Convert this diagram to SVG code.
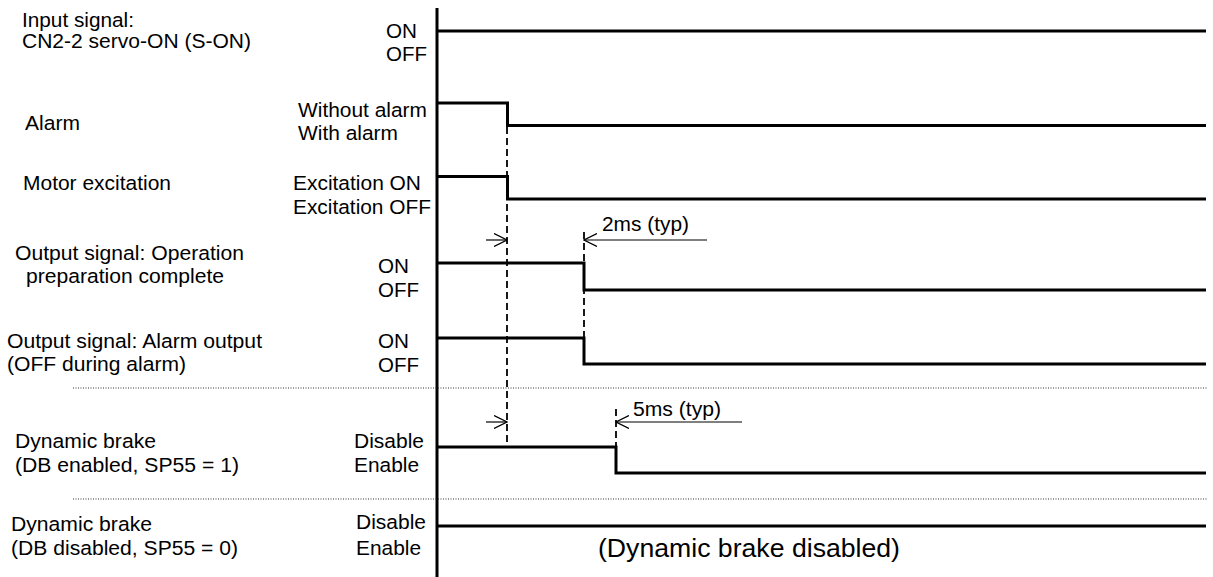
<svg xmlns="http://www.w3.org/2000/svg" width="1213" height="577" viewBox="0 0 1213 577">
<style>
text{font-family:"Liberation Sans",Arial,sans-serif;font-size:20.5px;fill:#000}
.big{font-size:25px}
.sig{fill:none;stroke:#000;stroke-width:3;stroke-linejoin:miter;stroke-linecap:butt}
.axis{fill:none;stroke:#000;stroke-width:3}
.dash{fill:none;stroke:#000;stroke-width:1.8;stroke-dasharray:7 4}
.dot{fill:none;stroke:#333;stroke-width:1;stroke-dasharray:1 1.5}
.dim{fill:none;stroke:#000;stroke-width:1.2}
</style>
<defs>
<marker id="chev" viewBox="0 0 14 14" markerWidth="14" markerHeight="14" refX="13" refY="7" markerUnits="userSpaceOnUse" orient="auto">
<path d="M0,0.5 L13,7 L0,13.5" fill="none" stroke="#000" stroke-width="1.3"/>
</marker>
</defs>
<rect width="1213" height="577" fill="#fff"/>
<line id="axis" class="axis" x1="437" y1="8" x2="437" y2="577"/>
<g id="input-signal">
<text x="22" y="27" textLength="112" lengthAdjust="spacingAndGlyphs">Input signal:</text>
<text x="22" y="47.5" textLength="229" lengthAdjust="spacingAndGlyphs">CN2-2 servo-ON (S-ON)</text>
<text x="386" y="37.5" textLength="31" lengthAdjust="spacingAndGlyphs">ON</text>
<text x="386" y="61" textLength="41" lengthAdjust="spacingAndGlyphs">OFF</text>
<path class="sig" d="M437,31 H1206"/>
</g>
<g id="alarm">
<text x="25" y="130" textLength="55" lengthAdjust="spacingAndGlyphs">Alarm</text>
<text x="298" y="116.5" textLength="129" lengthAdjust="spacingAndGlyphs">Without alarm</text>
<text x="298" y="140" textLength="100" lengthAdjust="spacingAndGlyphs">With alarm</text>
<path class="sig" d="M437,103 H507.5 V125.5 H1206"/>
</g>
<g id="motor-excitation">
<text x="23" y="190" textLength="148" lengthAdjust="spacingAndGlyphs">Motor excitation</text>
<text x="293" y="190" textLength="128" lengthAdjust="spacingAndGlyphs">Excitation ON</text>
<text x="293" y="213.5" textLength="138" lengthAdjust="spacingAndGlyphs">Excitation OFF</text>
<path class="sig" d="M437,176.5 H507.5 V199 H1206"/>
</g>
<g id="operation-ready">
<text x="15" y="259.5" textLength="229" lengthAdjust="spacingAndGlyphs">Output signal: Operation</text>
<text x="26" y="283" textLength="198" lengthAdjust="spacingAndGlyphs">preparation complete</text>
<text x="378" y="272.5" textLength="31" lengthAdjust="spacingAndGlyphs">ON</text>
<text x="378" y="296.5" textLength="41" lengthAdjust="spacingAndGlyphs">OFF</text>
<path class="sig" d="M437,263 H584 V290 H1206"/>
</g>
<g id="alarm-output">
<text x="7" y="347.5" textLength="255" lengthAdjust="spacingAndGlyphs">Output signal: Alarm output</text>
<text x="7" y="371" textLength="179" lengthAdjust="spacingAndGlyphs">(OFF during alarm)</text>
<text x="378" y="347.5" textLength="31" lengthAdjust="spacingAndGlyphs">ON</text>
<text x="378" y="371.5" textLength="41" lengthAdjust="spacingAndGlyphs">OFF</text>
<path class="sig" d="M437,338 H584 V364 H1206"/>
</g>
<g id="separators">
<line class="dot" x1="73" y1="388" x2="1207" y2="388"/>
<line class="dot" x1="73" y1="499" x2="1207" y2="499"/>
</g>
<g id="db-enabled">
<text x="15" y="448" textLength="141" lengthAdjust="spacingAndGlyphs">Dynamic brake</text>
<text x="15" y="472" textLength="224" lengthAdjust="spacingAndGlyphs">(DB enabled, SP55 = 1)</text>
<text x="354" y="448" textLength="70" lengthAdjust="spacingAndGlyphs">Disable</text>
<text x="354" y="472" textLength="65" lengthAdjust="spacingAndGlyphs">Enable</text>
<path class="sig" d="M437,447 H616 V473 H1206"/>
</g>
<g id="db-disabled">
<text x="11" y="531" textLength="141" lengthAdjust="spacingAndGlyphs">Dynamic brake</text>
<text x="11" y="555" textLength="227" lengthAdjust="spacingAndGlyphs">(DB disabled, SP55 = 0)</text>
<text x="356" y="528.5" textLength="70" lengthAdjust="spacingAndGlyphs">Disable</text>
<text x="356" y="554.5" textLength="65" lengthAdjust="spacingAndGlyphs">Enable</text>
<path class="sig" d="M437,526 H1206"/>
<text class="big" x="598" y="557" textLength="302" lengthAdjust="spacingAndGlyphs">(Dynamic brake disabled)</text>
</g>
<g id="connectors">
<line class="dash" x1="507" y1="127" x2="507" y2="446"/>
<line class="dash" x1="584" y1="232" x2="584" y2="362"/>
<line class="dash" x1="616" y1="409" x2="616" y2="446"/>
<line class="dim" x1="486" y1="240" x2="507" y2="240" marker-end="url(#chev)"/>
<line class="dim" x1="707" y1="240" x2="584" y2="240" marker-end="url(#chev)"/>
<line class="dim" x1="486" y1="422" x2="507" y2="422" marker-end="url(#chev)"/>
<line class="dim" x1="742" y1="422" x2="616" y2="422" marker-end="url(#chev)"/>
<text x="602" y="231" textLength="87" lengthAdjust="spacingAndGlyphs">2ms (typ)</text>
<text x="633" y="416" textLength="88" lengthAdjust="spacingAndGlyphs">5ms (typ)</text>
</g>
</svg>
